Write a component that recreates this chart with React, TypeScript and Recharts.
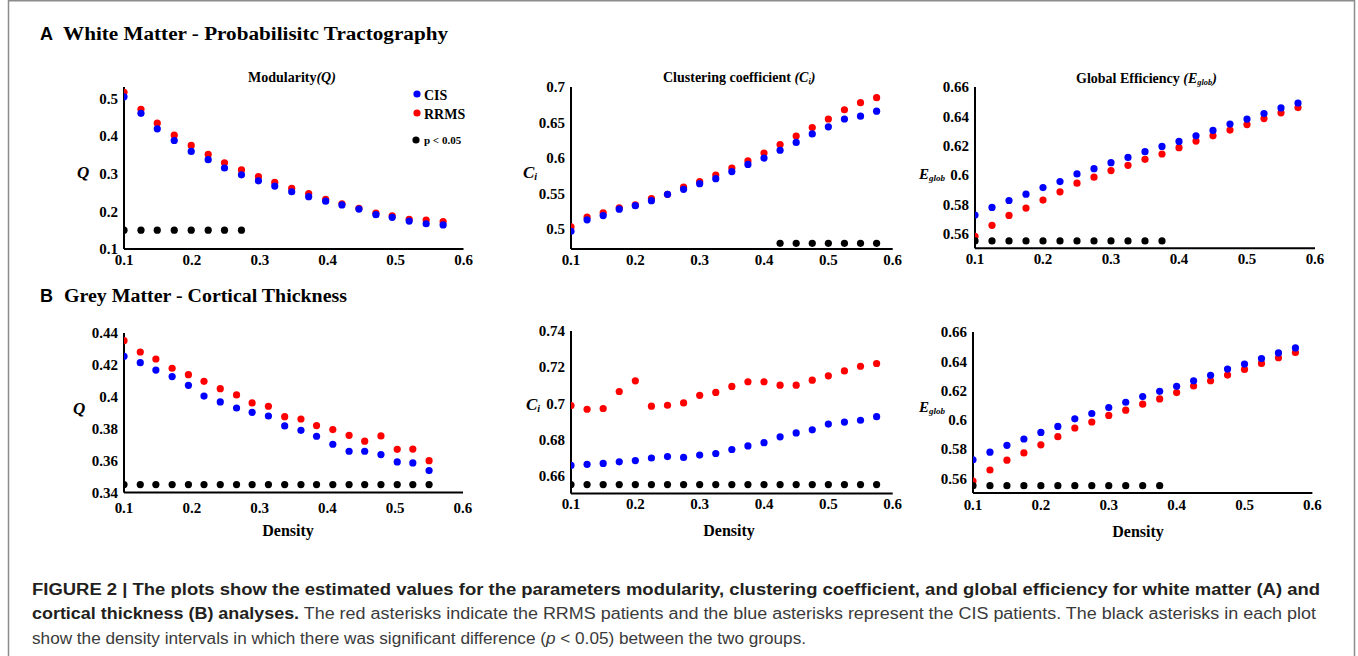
import { ScatterChart, Scatter, XAxis, YAxis } from "recharts";

// density values (x) for each panel
const densityWmMod = [0.1, 0.125, 0.149, 0.174, 0.199, 0.224, 0.248, 0.273, 0.298, 0.322, 0.347, 0.372, 0.397, 0.421, 0.446, 0.471, 0.495, 0.52, 0.545, 0.57];
const density = [0.1, 0.125, 0.15, 0.175, 0.2, 0.225, 0.25, 0.275, 0.3, 0.325, 0.35, 0.375, 0.4, 0.425, 0.45, 0.475, 0.5, 0.525, 0.55, 0.575];
const densityGmMod = [0.1, 0.124, 0.147, 0.171, 0.195, 0.218, 0.242, 0.266, 0.289, 0.313, 0.337, 0.361, 0.384, 0.408, 0.432, 0.455, 0.479, 0.503, 0.526, 0.55];

// A - white matter
const modWmCis = [0.504, 0.46, 0.419, 0.388, 0.359, 0.337, 0.315, 0.297, 0.281, 0.267, 0.252, 0.239, 0.227, 0.217, 0.206, 0.191, 0.184, 0.174, 0.167, 0.164];
const modWmRrms = [0.516, 0.471, 0.434, 0.402, 0.375, 0.351, 0.329, 0.31, 0.292, 0.277, 0.261, 0.247, 0.232, 0.22, 0.208, 0.195, 0.188, 0.179, 0.177, 0.173];
const clustWmCis = [0.497, 0.513, 0.519, 0.528, 0.533, 0.54, 0.549, 0.556, 0.564, 0.571, 0.581, 0.591, 0.6, 0.611, 0.622, 0.634, 0.644, 0.655, 0.659, 0.666];
const clustWmRrms = [0.503, 0.517, 0.523, 0.53, 0.534, 0.543, 0.549, 0.559, 0.567, 0.576, 0.586, 0.596, 0.607, 0.619, 0.631, 0.643, 0.655, 0.668, 0.678, 0.685];
const effCis = [0.5727, 0.5779, 0.5826, 0.5869, 0.5914, 0.5955, 0.6007, 0.6043, 0.6084, 0.612, 0.6159, 0.6195, 0.6229, 0.6267, 0.6304, 0.6347, 0.6381, 0.6419, 0.6457, 0.6491];
const effRrms = [0.5582, 0.5657, 0.5724, 0.5774, 0.5829, 0.5885, 0.5944, 0.5985, 0.603, 0.6066, 0.6107, 0.6143, 0.6186, 0.6231, 0.6267, 0.6306, 0.6344, 0.6385, 0.6424, 0.646];

// B - grey matter
const modGmCis = [0.4254, 0.4214, 0.4168, 0.4127, 0.4072, 0.4005, 0.3968, 0.393, 0.3903, 0.388, 0.3818, 0.379, 0.3753, 0.3703, 0.3659, 0.3659, 0.3638, 0.3592, 0.3586, 0.3538];
const modGmRrms = [0.4352, 0.4281, 0.4237, 0.4179, 0.4139, 0.4097, 0.4051, 0.4012, 0.3962, 0.3941, 0.3876, 0.3861, 0.382, 0.3795, 0.3759, 0.3722, 0.3755, 0.3671, 0.3673, 0.36];
const clustGmCis = [0.6656, 0.6662, 0.6667, 0.6676, 0.6683, 0.6697, 0.6705, 0.67, 0.6713, 0.6722, 0.6744, 0.6764, 0.6782, 0.6814, 0.6836, 0.6853, 0.6885, 0.6896, 0.6906, 0.6926];
const clustGmRrms = [0.6987, 0.6967, 0.6971, 0.7065, 0.7124, 0.6984, 0.6989, 0.7002, 0.7044, 0.706, 0.7093, 0.7119, 0.7119, 0.71, 0.71, 0.7128, 0.7152, 0.7179, 0.7205, 0.722];

// p < 0.05 intervals
const sigModWm = [0.1, 0.125, 0.149, 0.174, 0.199, 0.224, 0.248, 0.273];
const sigClustWm = [0.425, 0.45, 0.475, 0.5, 0.525, 0.55, 0.575];
const sigEff = [0.1, 0.125, 0.15, 0.175, 0.2, 0.225, 0.25, 0.275, 0.3, 0.325, 0.35, 0.375];
const sigModGm = densityGmMod;
const sigClustGm = density;

const xTicks = [0.1, 0.2, 0.3, 0.4, 0.5, 0.6];
const yTicksModWm = [0.1, 0.2, 0.3, 0.4, 0.5];
const yTicksClustWm = [0.5, 0.55, 0.6, 0.65, 0.7];
const yTicksEff = [0.56, 0.58, 0.6, 0.62, 0.64, 0.66];
const yTicksModGm = [0.34, 0.36, 0.38, 0.4, 0.42, 0.44];
const yTicksClustGm = [0.66, 0.68, 0.7, 0.72, 0.74];

const serif = "'Liberation Serif', 'Times New Roman', serif";
const sans = "'Liberation Sans', Arial, sans-serif";

const tickStyle = { fill: "#000", fontFamily: serif, fontWeight: 700, fontSize: 15 };
const axisStyle = { stroke: "#000", strokeWidth: 2 };

const makeDot = (color) => (p) => <circle cx={p.cx} cy={p.cy} r={3.6} fill={color} />;

function Panel({ left, right, top, bottom, xs, cis, rrms, sig, sigLevel, yDomain, yTicks, xGap }) {
  const padL = 60, padT = 10, padR = 14, padB = 34;
  const w = right - left;
  const h = bottom - top;
  const cisPts = xs.map((x, i) => ({ x, y: cis[i] }));
  const rrmsPts = xs.map((x, i) => ({ x, y: rrms[i] }));
  const sigPts = sig.map((x) => ({ x, y: sigLevel }));
  return (
    <div style={{ position: "absolute", left: left - padL, top: top - padT }}>
      <ScatterChart width={w + padL + padR} height={h + padT + padB} margin={{ top: padT, right: padR, left: 0, bottom: 0 }}>
        <XAxis type="number" dataKey="x" domain={[0.1, 0.6]} ticks={xTicks} allowDataOverflow interval={0}
          height={padB} tickSize={0} tickMargin={xGap} axisLine={axisStyle} tick={tickStyle}
          tickFormatter={(v) => String(v)} />
        <YAxis type="number" dataKey="y" domain={yDomain} ticks={yTicks} allowDataOverflow interval={0}
          width={padL} tickSize={0} tickMargin={6} axisLine={axisStyle} tick={tickStyle}
          tickFormatter={(v) => String(v)} />
        <Scatter data={rrmsPts} fill="#ff0000" shape={makeDot("#ff0000")} isAnimationActive={false} />
        <Scatter data={cisPts} fill="#0000ff" shape={makeDot("#0000ff")} isAnimationActive={false} />
        <Scatter data={sigPts} fill="#000" shape={makeDot("#000")} isAnimationActive={false} />
      </ScatterChart>
    </div>
  );
}

const Sub = ({ children }) => (
  <tspan dy={4} fontSize="0.6em">{children}</tspan>
);

export default function App() {
  const t = { fontFamily: serif, fontWeight: 700, fill: "#000" };
  return (
    <div style={{ position: "absolute", left: 0, top: 0, width: 1358, height: 656, background: "#fff", overflow: "hidden" }}>
      <Panel left={124} right={463.5} top={87} bottom={249} xs={densityWmMod} cis={modWmCis} rrms={modWmRrms}
        sig={sigModWm} sigLevel={0.15} yDomain={[0.1, 0.53]} yTicks={yTicksModWm} xGap={5} />
      <Panel left={571} right={892.7} top={87} bottom={249} xs={density} cis={clustWmCis} rrms={clustWmRrms}
        sig={sigClustWm} sigLevel={0.48} yDomain={[0.472, 0.7]} yTicks={yTicksClustWm} xGap={5} />
      <Panel left={975} right={1315} top={87} bottom={248.3} xs={density} cis={effCis} rrms={effRrms}
        sig={sigEff} sigLevel={0.555} yDomain={[0.55, 0.66]} yTicks={yTicksEff} xGap={5} />
      <Panel left={124.3} right={463.3} top={332.7} bottom={492.3} xs={densityGmMod} cis={modGmCis} rrms={modGmRrms}
        sig={sigModGm} sigLevel={0.345} yDomain={[0.34, 0.44]} yTicks={yTicksModGm} xGap={10} />
      <Panel left={571} right={892.7} top={330.7} bottom={493.3} xs={density} cis={clustGmCis} rrms={clustGmRrms}
        sig={sigClustGm} sigLevel={0.655} yDomain={[0.65, 0.74]} yTicks={yTicksClustGm} xGap={5} />
      <Panel left={973.3} right={1312.7} top={331.7} bottom={492.7} xs={density} cis={effCis} rrms={effRrms}
        sig={sigEff} sigLevel={0.555} yDomain={[0.55, 0.66]} yTicks={yTicksEff} xGap={6} />

      <svg width={1358} height={656} style={{ position: "absolute", left: 0, top: 0, pointerEvents: "none" }}>
        <rect x={8.5} y={0.75} width={1346} height={700} fill="none" stroke="#8c8c8c" strokeWidth={1.5} />

        <text x={40} y={34} dominantBaseline="central" fontFamily={sans} fontWeight={700} fontSize={18}>A</text>
        <text x={63} y={34} dominantBaseline="central" {...t} fontSize={18} textLength={385} lengthAdjust="spacingAndGlyphs">White Matter - Probabilisitc Tractography</text>
        <text x={40} y={296} dominantBaseline="central" fontFamily={sans} fontWeight={700} fontSize={18}>B</text>
        <text x={64} y={296} dominantBaseline="central" {...t} fontSize={18} textLength={283} lengthAdjust="spacingAndGlyphs">Grey Matter - Cortical Thickness</text>

        <text x={248} y={77} dominantBaseline="central" {...t} fontSize={14}>Modularity<tspan fontStyle="italic">(Q)</tspan></text>
        <text x={663} y={77} dominantBaseline="central" {...t} fontSize={14}>Clustering coefficient <tspan fontStyle="italic">(C<Sub>i</Sub><tspan dy={-4}>)</tspan></tspan></text>
        <text x={1076} y={78} dominantBaseline="central" {...t} fontSize={14}>Global Efficiency <tspan fontStyle="italic">(E<Sub>glob</Sub><tspan dy={-4}>)</tspan></tspan></text>

        <text x={77} y={172} dominantBaseline="central" {...t} fontStyle="italic" fontSize={17}>Q</text>
        <text x={523} y={172} dominantBaseline="central" {...t} fontStyle="italic" fontSize={17}>C<Sub>i</Sub></text>
        <text x={919} y={174} dominantBaseline="central" {...t} fontStyle="italic" fontSize={15}>E<Sub>glob</Sub></text>
        <text x={73} y={408} dominantBaseline="central" {...t} fontStyle="italic" fontSize={17}>Q</text>
        <text x={526} y={404} dominantBaseline="central" {...t} fontStyle="italic" fontSize={17}>C<Sub>i</Sub></text>
        <text x={919} y={407} dominantBaseline="central" {...t} fontStyle="italic" fontSize={15}>E<Sub>glob</Sub></text>

        <circle cx={417} cy={94} r={3.6} fill="#0000ff" />
        <text x={424} y={95} dominantBaseline="central" {...t} fontSize={14}>CIS</text>
        <circle cx={417} cy={113} r={3.6} fill="#ff0000" />
        <text x={424} y={114} dominantBaseline="central" {...t} fontSize={14}>RRMS</text>
        <circle cx={416} cy={140} r={3.6} fill="#000" />
        <text x={424} y={140} dominantBaseline="central" {...t} fontSize={11}>p &lt; 0.05</text>

        <text x={288} y={530} dominantBaseline="central" textAnchor="middle" {...t} fontSize={16}>Density</text>
        <text x={729} y={530} dominantBaseline="central" textAnchor="middle" {...t} fontSize={16}>Density</text>
        <text x={1138} y={531} dominantBaseline="central" textAnchor="middle" {...t} fontSize={16}>Density</text>

        <text x={32} y={589} dominantBaseline="central" fontFamily={sans} fontSize={16} fontWeight={700} fill="#231f20"
          textLength={1288} lengthAdjust="spacingAndGlyphs">
          FIGURE 2 | The plots show the estimated values for the parameters modularity, clustering coefficient, and global efficiency for white matter (A) and
        </text>
        <text x={32} y={613} dominantBaseline="central" fontFamily={sans} fontSize={16} fill="#3a3a3a"
          textLength={1284} lengthAdjust="spacingAndGlyphs">
          <tspan fontWeight={700} fill="#231f20">cortical thickness (B) analyses.</tspan> The red asterisks indicate the RRMS patients and the blue asterisks represent the CIS patients. The black asterisks in each plot
        </text>
        <text x={32} y={638} dominantBaseline="central" fontFamily={sans} fontSize={16} fill="#3a3a3a"
          textLength={774} lengthAdjust="spacingAndGlyphs">
          show the density intervals in which there was significant difference (<tspan fontStyle="italic">p</tspan> &lt; 0.05) between the two groups.
        </text>
      </svg>
    </div>
  );
}
